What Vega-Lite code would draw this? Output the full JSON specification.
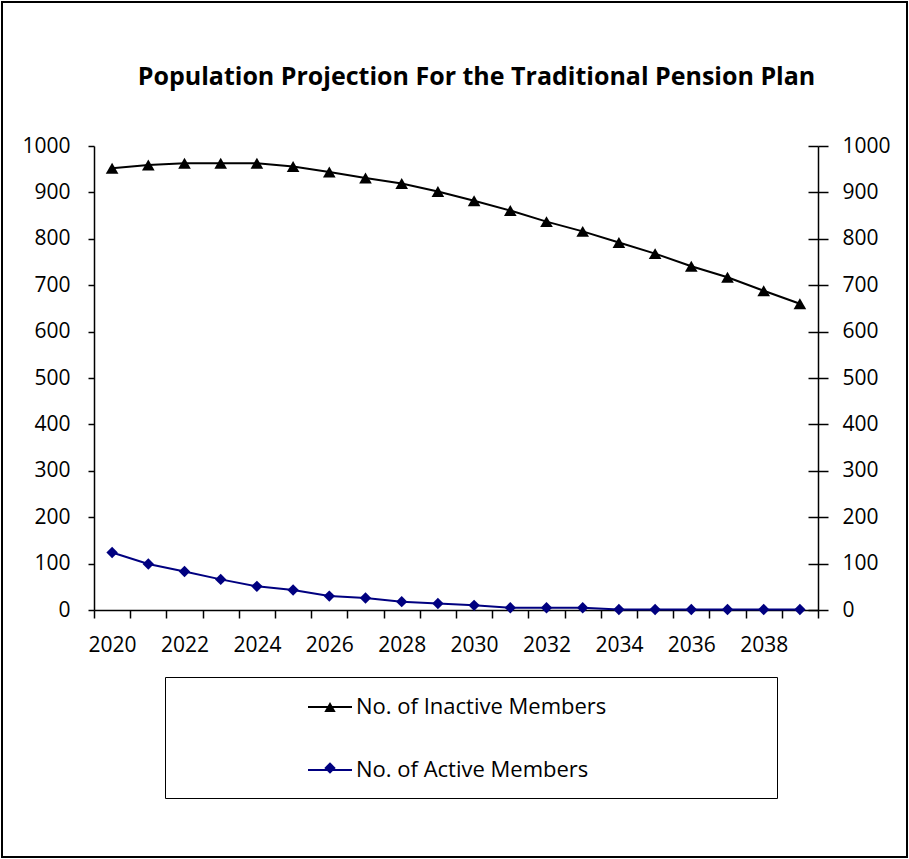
{
  "$schema": "https://vega.github.io/schema/vega-lite/v6.json",
  "autosize": {"type": "none"},
  "padding": 2,
  "width": 905,
  "height": 855,
  "background": "#ffffff",
  "view": {"stroke": "#000000", "strokeWidth": 2, "fill": "#ffffff"},
  "title": {
    "text": "Population Projection For the Traditional Pension Plan",
    "font": "Open Sans",
    "fontSize": 25,
    "fontWeight": "bold",
    "color": "#000000",
    "anchor": "middle",
    "frame": "group",
    "baseline": "alphabetic",
    "offset": 0,
    "dx": 22,
    "dy": 108
  },
  "config": {
    "font": "Open Sans",
    "axis": {
      "labelFont": "Open Sans",
      "labelFontSize": 21,
      "labelColor": "#000000",
      "domainColor": "#000000",
      "domainWidth": 1.5,
      "tickColor": "#000000",
      "tickWidth": 1.5,
      "grid": false,
      "title": null
    },
    "legend": {
      "labelFont": "Open Sans",
      "labelFontSize": 20,
      "labelColor": "#000000"
    }
  },
  "data": {
    "values": [
      {"year": 2020, "series": "No. of Inactive Members", "value": 952},
      {"year": 2021, "series": "No. of Inactive Members", "value": 959},
      {"year": 2022, "series": "No. of Inactive Members", "value": 963},
      {"year": 2023, "series": "No. of Inactive Members", "value": 963},
      {"year": 2024, "series": "No. of Inactive Members", "value": 963},
      {"year": 2025, "series": "No. of Inactive Members", "value": 956},
      {"year": 2026, "series": "No. of Inactive Members", "value": 944},
      {"year": 2027, "series": "No. of Inactive Members", "value": 931},
      {"year": 2028, "series": "No. of Inactive Members", "value": 919},
      {"year": 2029, "series": "No. of Inactive Members", "value": 902},
      {"year": 2030, "series": "No. of Inactive Members", "value": 882},
      {"year": 2031, "series": "No. of Inactive Members", "value": 861},
      {"year": 2032, "series": "No. of Inactive Members", "value": 837},
      {"year": 2033, "series": "No. of Inactive Members", "value": 816},
      {"year": 2034, "series": "No. of Inactive Members", "value": 792},
      {"year": 2035, "series": "No. of Inactive Members", "value": 768},
      {"year": 2036, "series": "No. of Inactive Members", "value": 741},
      {"year": 2037, "series": "No. of Inactive Members", "value": 717},
      {"year": 2038, "series": "No. of Inactive Members", "value": 688},
      {"year": 2039, "series": "No. of Inactive Members", "value": 660},
      {"year": 2020, "series": "No. of Active Members", "value": 124},
      {"year": 2021, "series": "No. of Active Members", "value": 99},
      {"year": 2022, "series": "No. of Active Members", "value": 83},
      {"year": 2023, "series": "No. of Active Members", "value": 66},
      {"year": 2024, "series": "No. of Active Members", "value": 51},
      {"year": 2025, "series": "No. of Active Members", "value": 43},
      {"year": 2026, "series": "No. of Active Members", "value": 30},
      {"year": 2027, "series": "No. of Active Members", "value": 26},
      {"year": 2028, "series": "No. of Active Members", "value": 18},
      {"year": 2029, "series": "No. of Active Members", "value": 14},
      {"year": 2030, "series": "No. of Active Members", "value": 10},
      {"year": 2031, "series": "No. of Active Members", "value": 5},
      {"year": 2032, "series": "No. of Active Members", "value": 5},
      {"year": 2033, "series": "No. of Active Members", "value": 5},
      {"year": 2034, "series": "No. of Active Members", "value": 1},
      {"year": 2035, "series": "No. of Active Members", "value": 1},
      {"year": 2036, "series": "No. of Active Members", "value": 1},
      {"year": 2037, "series": "No. of Active Members", "value": 1},
      {"year": 2038, "series": "No. of Active Members", "value": 1},
      {"year": 2039, "series": "No. of Active Members", "value": 1}
    ]
  },
  "encoding": {
    "x": {
      "field": "year",
      "type": "ordinal",
      "scale": {"type": "band", "range": [92, 816], "paddingInner": 0, "paddingOuter": 0},
      "axis": {
        "orient": "bottom",
        "offset": -247,
        "tickBand": "extent",
        "tickSize": 8,
        "labelPadding": 16,
        "labelAngle": 0,
        "labelExpr": "datum.value % 2 == 0 ? datum.label : ''",
        "labelOverlap": false
      }
    }
  },
  "layer": [
    {
      "mark": {"type": "line", "strokeWidth": 2},
      "encoding": {
        "y": {
          "field": "value",
          "type": "quantitative",
          "scale": {"domain": [0, 1000], "range": [608, 144], "nice": false, "zero": true},
          "axis": {
            "orient": "left",
            "offset": -92,
            "values": [0, 100, 200, 300, 400, 500, 600, 700, 800, 900, 1000],
            "format": "d",
            "tickSize": 6,
            "labelPadding": 18
          }
        },
        "stroke": {
          "field": "series",
          "type": "nominal",
          "sort": ["No. of Inactive Members", "No. of Active Members"],
          "scale": {"range": ["#000000", "#000080"]},
          "legend": {
            "title": null,
            "orient": "none",
            "legendX": 163,
            "legendY": 675,
            "padding": 20,
            "symbolType": "stroke",
            "symbolSize": 1936,
            "symbolStrokeWidth": 2,
            "symbolOffset": 122,
            "labelOffset": 3,
            "labelFontSize": 22,
            "labelLimit": 500,
            "clipHeight": 20,
            "rowPadding": 41
          }
        }
      }
    },
    {
      "transform": [{"filter": "datum.series == 'No. of Inactive Members'"}],
      "mark": {"type": "point", "filled": true, "size": 160, "opacity": 1},
      "encoding": {
        "y": {
          "field": "value",
          "type": "quantitative",
          "axis": {
            "orient": "right",
            "offset": -89,
            "values": [0, 100, 200, 300, 400, 500, 600, 700, 800, 900, 1000],
            "format": "d",
            "tickSize": 10,
            "labelPadding": 14
          }
        },
        "fill": {
          "field": "series",
          "type": "nominal",
          "scale": {"domain": ["No. of Inactive Members", "No. of Active Members"], "range": ["#000000", "#000080"]},
          "legend": {
            "title": null,
            "orient": "none",
            "legendX": 163,
            "legendY": 675,
            "padding": 20,
            "strokeColor": "#000000",
            "fillColor": null,
            "symbolSize": 130,
            "symbolStrokeWidth": 0,
            "symbolOffset": 135,
            "labelOffset": 417,
            "labelFontSize": 20,
            "labelExpr": "''",
            "clipHeight": 20,
            "rowPadding": 41
          }
        },
        "shape": {
          "field": "series",
          "type": "nominal",
          "scale": {"domain": ["No. of Inactive Members", "No. of Active Members"], "range": ["triangle-up", "diamond"]},
          "legend": {
            "title": null,
            "orient": "none",
            "legendX": 163,
            "legendY": 675,
            "padding": 20,
            "strokeColor": "#000000",
            "fillColor": null,
            "symbolSize": 130,
            "symbolStrokeWidth": 0,
            "symbolOffset": 135,
            "labelOffset": 417,
            "labelFontSize": 20,
            "labelExpr": "''",
            "clipHeight": 20,
            "rowPadding": 41
          }
        }
      }
    },
    {
      "transform": [{"filter": "datum.series == 'No. of Active Members'"}],
      "mark": {"type": "point", "filled": true, "size": 130, "opacity": 1},
      "encoding": {
        "y": {
          "field": "value",
          "type": "quantitative",
          "axis": {
            "orient": "right",
            "offset": -99,
            "values": [0, 100, 200, 300, 400, 500, 600, 700, 800, 900, 1000],
            "tickSize": 10,
            "labels": false,
            "domain": false
          }
        },
        "fill": {"field": "series", "type": "nominal"},
        "shape": {"field": "series", "type": "nominal"}
      }
    }
  ],
  "resolve": {"axis": {"y": "independent"}}
}
